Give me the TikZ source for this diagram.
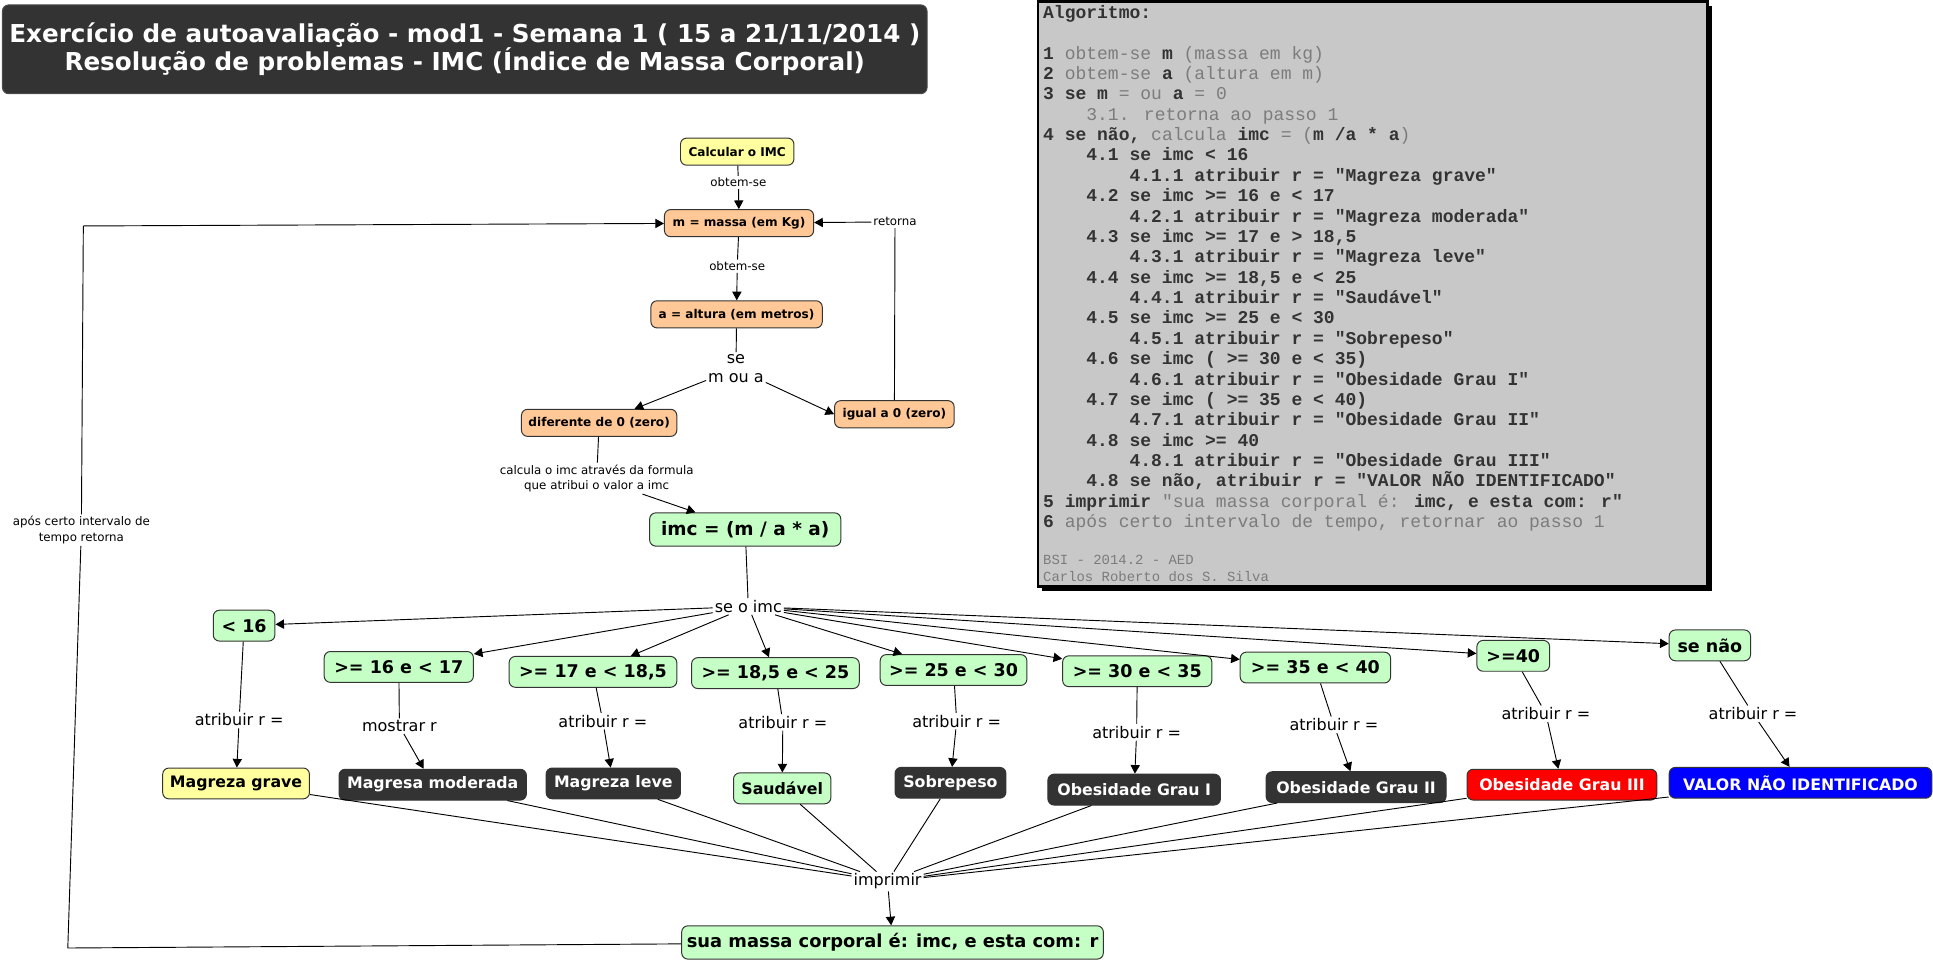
\documentclass[tikz,border=0pt]{standalone}
\usepackage{fontspec}
\setmainfont{DejaVu Sans}
\newfontfamily\algfont{Liberation Mono}
\usetikzlibrary{arrows.meta}
\definecolor{nyellow}{HTML}{FFFFA0}
\definecolor{norange}{HTML}{FFC896}
\definecolor{ngreen}{HTML}{C6FFC6}
\definecolor{ndark}{HTML}{333333}
\definecolor{nborder}{HTML}{333333}
\definecolor{algbg}{HTML}{C8C8C8}
\definecolor{algdark}{HTML}{333333}
\definecolor{alggray}{HTML}{7C7C7C}
\newcommand\algB[1]{\textcolor{algdark}{\bfseries #1}}
\newcommand\algG[1]{\textcolor{alggray}{#1}}
\newcommand\indA{\phantom{0000}}
\newcommand\indB{\phantom{00000000}}
\tikzset{
  nbox/.style={draw=nborder, rounded corners=5pt, line width=0.8pt, inner xsep=3pt, inner ysep=0pt},
  smallbox/.style={nbox, fill=norange, minimum height=22pt, font=\fontsize{9.8}{11}\selectfont\bfseries},
  condbox/.style={nbox, fill=ngreen, minimum height=25pt, font=\fontsize{14.2}{16}\selectfont\bfseries},
  resbox/.style={nbox, minimum height=25pt, font=\fontsize{12.8}{14}\selectfont\bfseries},
  darkres/.style={resbox, fill=ndark, text=white},
  bigbox/.style={nbox, fill=ngreen, minimum height=27pt, font=\fontsize{15}{17}\selectfont\bfseries},
  lbl/.style={inner sep=1.5pt, font=\fontsize{9.6}{12.5}\selectfont, align=center},
  lblbig/.style={inner sep=1.5pt, font=\fontsize{13}{16}\selectfont, align=center},
  conn/.style={draw=black, line width=0.75pt},
  arr/.style={-{Triangle[length=7pt,width=7.5pt]}},
  algline/.style={anchor=base west, inner sep=0pt, font=\algfont\fontsize{14.6}{16.5}\selectfont},
  algfoot/.style={anchor=base west, inner sep=0pt, text=alggray, font=\algfont\fontsize{11.3}{14}\selectfont}
}
\begin{document}
\begin{tikzpicture}[x=1pt,y=-1pt]
\useasboundingbox (0,0) rectangle (1568,780.3);

% title
\node[fill=ndark, draw=gray!60!black, line width=0.8pt, rounded corners=5pt, minimum width=750pt, minimum height=72pt,
      inner sep=0pt, text=white, align=center, font=\fontsize{20}{23}\selectfont\bfseries] (title) at (377,40)
  {Exercício de autoavaliação - mod1 - Semana 1 ( 15 a 21/11/2014 )\\Resolução de problemas - IMC (Índice de Massa Corporal)};

% algorithm box
\fill[black] (845.5,4.5) rectangle (1388.5,479.5);
\node[draw=black, fill=algbg, line width=2.4pt, minimum width=543pt, minimum height=475pt, inner sep=0pt] (alg) at (1113.5,238.5) {};
\node[algline] (l0) at (846,15) {\algB{Algoritmo:}};
\node[algline] (l1) at (846,48) {\algB{1} \algG{obtem-se} \algB{m} \algG{(massa em kg)}};
\node[algline] (l2) at (846,64.52) {\algB{2} \algG{obtem-se} \algB{a} \algG{(altura em m)}};
\node[algline] (l3) at (846,81.04) {\algB{3 se m} \algG{= ou} \algB{a} \algG{= 0}};
\node[algline] (l4) at (846,97.56) {\indA\algG{3.1. retorna ao passo 1}};
\node[algline] (l5) at (846,114.08) {\algB{4 se não,} \algG{calcula} \algB{imc} \algG{= (}\algB{m /a * a}\algG{)}};
\node[algline] (l6) at (846,130.6) {\indA\algB{4.1 se imc < 16}};
\node[algline] (l7) at (846,147.12) {\indB\algB{4.1.1 atribuir r = "Magreza grave"}};
\node[algline] (l8) at (846,163.64) {\indA\algB{4.2 se imc >= 16 e < 17}};
\node[algline] (l9) at (846,180.16) {\indB\algB{4.2.1 atribuir r = "Magreza moderada"}};
\node[algline] (l10) at (846,196.68) {\indA\algB{4.3 se imc >= 17 e > 18,5}};
\node[algline] (l11) at (846,213.2) {\indB\algB{4.3.1 atribuir r = "Magreza leve"}};
\node[algline] (l12) at (846,229.72) {\indA\algB{4.4 se imc >= 18,5 e < 25}};
\node[algline] (l13) at (846,246.24) {\indB\algB{4.4.1 atribuir r = "Saudável"}};
\node[algline] (l14) at (846,262.76) {\indA\algB{4.5 se imc >= 25 e < 30}};
\node[algline] (l15) at (846,279.28) {\indB\algB{4.5.1 atribuir r = "Sobrepeso"}};
\node[algline] (l16) at (846,295.8) {\indA\algB{4.6 se imc ( >= 30 e < 35)}};
\node[algline] (l17) at (846,312.32) {\indB\algB{4.6.1 atribuir r = "Obesidade Grau I"}};
\node[algline] (l18) at (846,328.84) {\indA\algB{4.7 se imc ( >= 35 e < 40)}};
\node[algline] (l19) at (846,345.36) {\indB\algB{4.7.1 atribuir r = "Obesidade Grau II"}};
\node[algline] (l20) at (846,361.88) {\indA\algB{4.8 se imc >= 40}};
\node[algline] (l21) at (846,378.4) {\indB\algB{4.8.1 atribuir r = "Obesidade Grau III"}};
\node[algline] (l22) at (846,394.92) {\indA\algB{4.8 se não, atribuir r = "VALOR NÃO IDENTIFICADO"}};
\node[algline] (l23) at (846,411.44) {\algB{5 imprimir} \algG{"sua massa corporal é:} \algB{imc, e esta com: r"}};
\node[algline] (l24) at (846,427.96) {\algB{6} \algG{após certo intervalo de tempo, retornar ao passo 1}};
\node[algfoot] (f1) at (846,458) {BSI - 2014.2 - AED};
\node[algfoot] (f2) at (846,472) {Carlos Roberto dos S. Silva};

% top nodes
\node[smallbox, fill=nyellow, minimum width=92pt] (calc) at (598,123) {Calcular o IMC};
\node[smallbox, minimum width=121pt] (mass) at (599.5,181) {m = massa (em Kg)};
\node[smallbox, minimum width=139pt] (alt) at (597.5,255) {a = altura (em metros)};
\node[smallbox, minimum width=126pt] (dif) at (486,343) {diferente de 0 (zero)};
\node[smallbox, minimum width=97pt] (igu) at (725.5,336) {igual a 0 (zero)};
\node[bigbox, minimum width=155pt] (imc) at (604.5,429.5) {imc = (m / a * a)};

% conditions
\node[condbox, minimum width=50pt] (c1) at (198,507.5) {< 16};
\node[condbox, minimum width=121pt] (c2) at (323.5,541) {>= 16 e < 17};
\node[condbox, minimum width=136pt] (c3) at (481,545) {>= 17 e < 18,5};
\node[condbox, minimum width=136pt] (c4) at (629,546) {>= 18,5 e < 25};
\node[condbox, minimum width=119pt] (c5) at (773.5,543.5) {>= 25 e < 30};
\node[condbox, minimum width=121pt] (c6) at (922.5,544.5) {>= 30 e < 35};
\node[condbox, minimum width=122pt] (c7) at (1067,541.5) {>= 35 e < 40};
\node[condbox, minimum width=59pt] (c8) at (1227.5,532) {>=40};
\node[condbox, minimum width=66pt] (c9) at (1387,523.5) {se não};

% results
\node[resbox, fill=nyellow, minimum width=119pt] (r1) at (191.5,635.5) {Magreza grave};
\node[darkres, minimum width=152pt] (r2) at (351,636.5) {Magresa moderada};
\node[darkres, minimum width=109pt] (r3) at (497.5,635.5) {Magreza leve};
\node[resbox, fill=ngreen, minimum width=79pt] (r4) at (634.5,639.5) {Saudável};
\node[darkres, minimum width=90pt] (r5) at (771,635) {Sobrepeso};
\node[darkres, minimum width=140pt] (r6) at (920,640.5) {Obesidade Grau I};
\node[darkres, minimum width=146pt] (r7) at (1100,638.5) {Obesidade Grau II};
\node[resbox, fill=red, text=white, minimum width=154pt] (r8) at (1267,636.5) {Obesidade Grau III};
\node[resbox, fill=blue, text=white, minimum width=213pt] (r9) at (1460.5,635) {VALOR NÃO IDENTIFICADO};

\node[bigbox, minimum width=342pt, font=\fontsize{14.5}{17}\selectfont\bfseries] (sua) at (724,764.5) {sua massa corporal é: imc, e esta com: r};

% labels
\node[lbl] (ob1) at (599,148) {obtem-se};
\node[lbl] (ob2) at (598,216) {obtem-se};
\node[lblbig] (sema) at (597,299) {se\\m ou a};
\node[lbl] (ret) at (726,180) {retorna};
\node[lbl] (calcl) at (484,388) {calcula o imc através da formula\\que atribui o valor a imc};
\node[lbl] (apos) at (66,430) {após certo intervalo de\\tempo retorna};
\node[lblbig] (seimc) at (607,492) {se o imc};
\node[lblbig] (at1) at (194,584) {atribuir r =};
\node[lblbig] (at2) at (324,589) {mostrar r};
\node[lblbig] (at3) at (489,585) {atribuir r =};
\node[lblbig] (at4) at (635,586) {atribuir r =};
\node[lblbig] (at5) at (776,585) {atribuir r =};
\node[lblbig] (at6) at (922,594) {atribuir r =};
\node[lblbig] (at7) at (1082,588) {atribuir r =};
\node[lblbig] (at8) at (1254,579) {atribuir r =};
\node[lblbig] (at9) at (1422,579) {atribuir r =};
\node[lblbig] (impr) at (720,715) {imprimir};
\coordinate (lpA) at (55,769);
\coordinate (lpB) at (67.6,183.3);

% connectors
\draw[conn] (calc) -- (ob1);
\draw[conn,arr] (ob1) -- (mass);
\draw[conn] (mass) -- (ob2);
\draw[conn,arr] (ob2) -- (alt);
\draw[conn] (alt) -- (sema);
\draw[conn,arr] (sema) -- (dif);
\draw[conn,arr] (sema) -- (igu.west);
\draw[conn] (igu) -- (ret);
\draw[conn,arr] (ret) -- (mass);
\draw[conn] (dif) -- (calcl);
\draw[conn,arr] (calcl) -- (imc);
\draw[conn] (imc) -- (seimc);
\foreach \i in {1,...,9}{
  \draw[conn,arr] (seimc) -- (c\i);
  \draw[conn] (c\i) -- (at\i);
  \draw[conn,arr] (at\i) -- (r\i);
  \draw[conn] (r\i) -- (impr);
}
\draw[conn,arr] (impr) -- (sua);
\draw[conn] (sua) -- (lpA) -- (apos);
\draw[conn,arr] (apos) -- (lpB) -- (mass);
\end{tikzpicture}
\end{document}
